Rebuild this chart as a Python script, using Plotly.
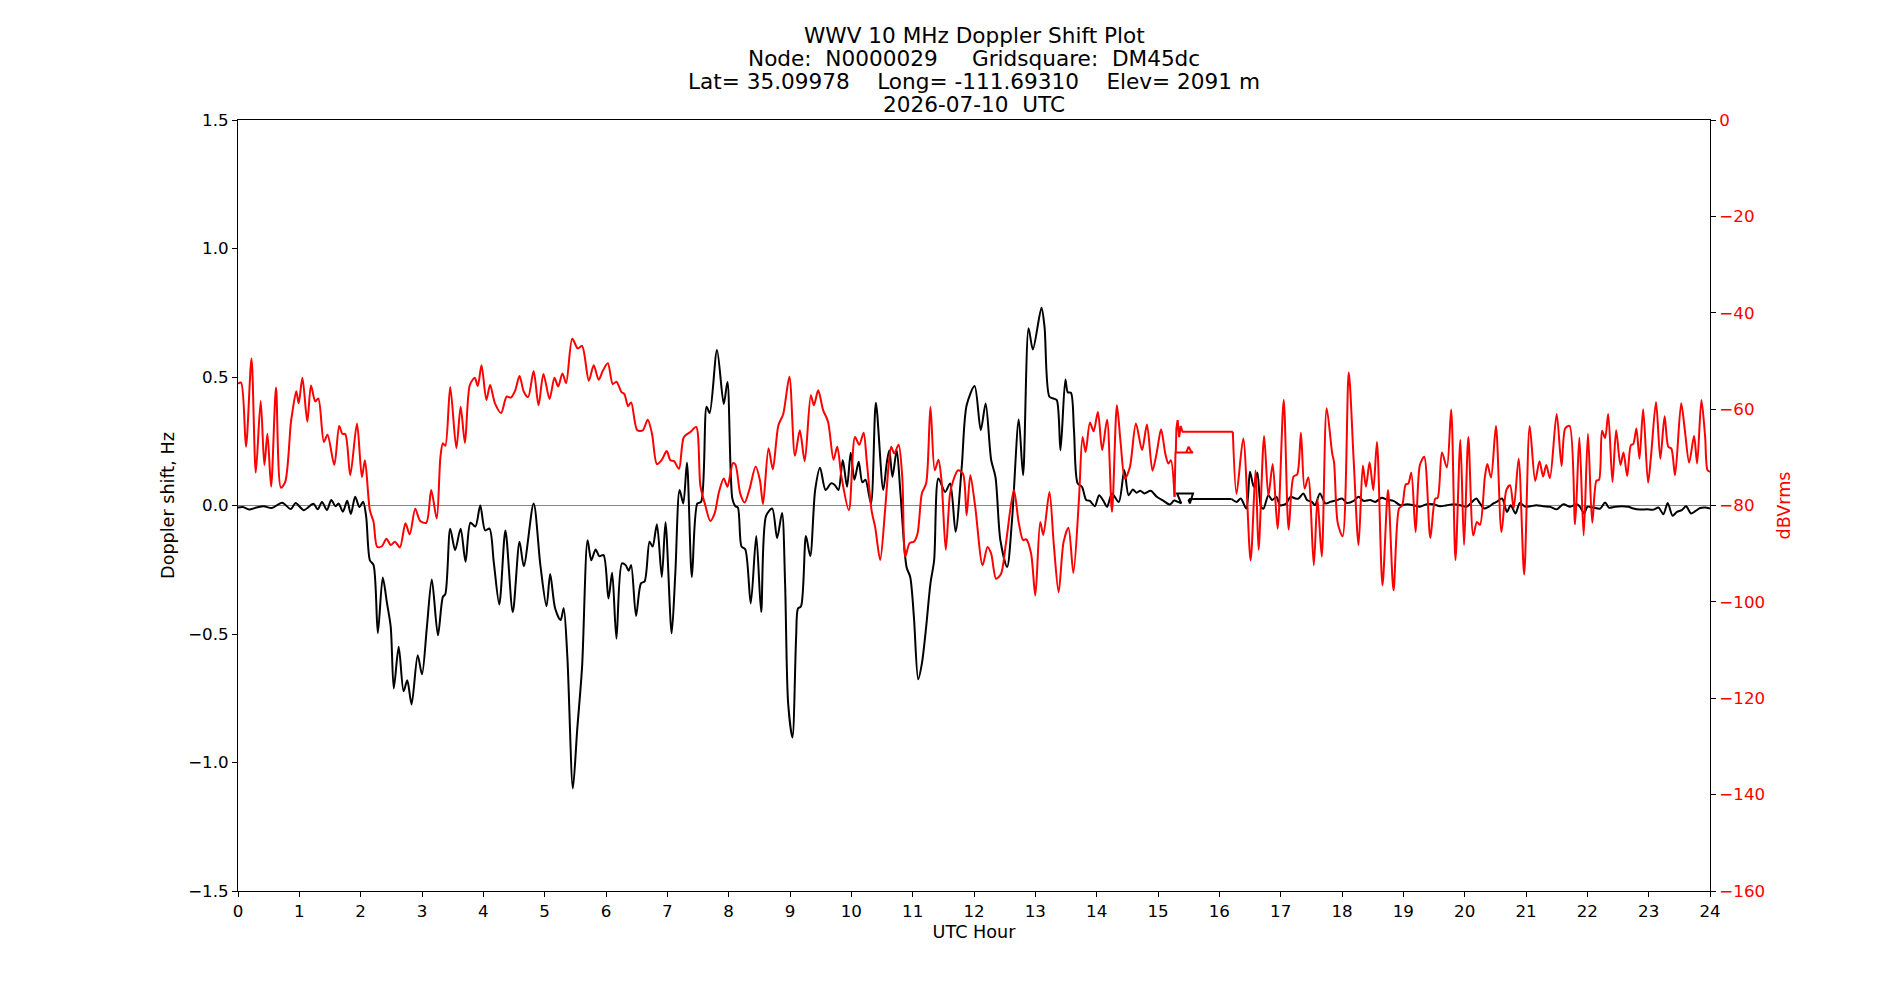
import plotly.graph_objects as go

# ---------------- data ----------------
# Doppler shift (Hz) vs UTC hour
dop_hour = [0.00,0.08,0.18,0.30,0.42,0.55,0.72,0.86,0.94,1.07,1.23,1.30,1.37,1.45,1.52,1.59,1.64,1.71,1.78,1.84,1.91,1.98,2.04,2.09,
            2.15,2.21,2.28,2.36,2.43,2.49,2.54,2.62,2.70,2.76,2.83,2.93,3.00,3.08,3.16,3.26,3.34,3.38,3.46,3.54,3.63,3.71,3.79,3.87,3.95,
            4.03,4.10,4.17,4.26,4.36,4.48,4.59,4.66,4.82,4.93,5.03,5.09,5.17,5.26,5.31,5.37,5.46,5.53,5.61,5.70,5.76,5.83,5.89,5.96,
            6.04,6.10,6.17,6.26,6.32,6.37,6.41,6.49,6.57,6.63,6.71,6.76,6.83,6.91,6.97,7.07,7.13,7.20,7.26,7.32,7.40,7.49,7.55,7.64,
            7.69,7.81,7.92,7.98,8.06,8.11,8.15,8.21,8.27,8.36,8.45,8.53,8.61,8.71,8.79,8.87,8.92,8.97,9.04,9.10,9.13,9.18,9.26,9.33,
            9.41,9.49,9.58,9.67,9.73,9.79,9.86,9.93,9.99,10.05,10.12,10.18,10.23,10.32,10.40,10.52,10.58,10.62,10.67,10.74,10.80,10.90,
            10.96,11.02,11.09,11.15,11.22,11.29,11.35,11.42,11.53,11.61,11.70,11.80,11.88,12.01,12.11,12.19,12.28,12.35,12.43,12.54,
            12.62,12.73,12.80,12.89,12.96,13.10,13.15,13.23,13.30,13.35,13.41,13.49,13.53,13.58,13.63,13.69,13.76,13.83,13.89,13.97,
            14.04,14.11,14.17,14.25,14.36,14.45,14.52,14.59,14.65,14.71,14.78,14.88,14.98,15.09,15.19,15.26]
dop_hz = [-0.008,-0.006,-0.016,-0.008,-0.003,-0.010,0.011,-0.014,0.010,-0.018,0.007,-0.015,0.014,-0.018,0.021,-0.003,0.008,-0.024,0.018,-0.033,0.034,-0.006,0.015,-0.044,
          -0.213,-0.232,-0.496,-0.280,-0.381,-0.472,-0.712,-0.550,-0.723,-0.680,-0.774,-0.583,-0.657,-0.472,-0.288,-0.505,-0.356,-0.345,-0.090,-0.174,-0.090,-0.219,-0.067,-0.082,0.000,
          -0.097,-0.090,-0.220,-0.385,-0.097,-0.415,-0.141,-0.236,0.008,-0.232,-0.392,-0.267,-0.400,-0.446,-0.400,-0.589,-1.101,-0.874,-0.628,-0.135,-0.213,-0.171,-0.197,-0.193,
          -0.362,-0.262,-0.518,-0.225,-0.232,-0.254,-0.232,-0.430,-0.303,-0.295,-0.141,-0.160,-0.073,-0.278,-0.065,-0.498,-0.265,0.060,0.008,0.166,-0.278,0.008,0.014,0.384,
          0.360,0.605,0.395,0.481,0.027,-0.003,-0.008,-0.160,-0.170,-0.381,-0.119,-0.414,-0.040,-0.012,-0.127,-0.029,-0.303,-0.771,-0.903,-0.511,-0.401,-0.392,-0.119,-0.197,
          0.060,0.147,0.060,0.086,0.080,0.060,0.177,0.073,0.205,0.100,0.170,0.090,0.100,0.008,0.400,0.060,0.170,0.215,0.111,0.215,0.050,-0.239,
          -0.278,-0.433,-0.676,-0.615,-0.472,-0.303,-0.213,0.105,0.053,0.086,-0.102,0.150,0.390,0.465,0.293,0.397,0.177,0.111,-0.135,-0.239,
          -0.057,0.335,0.118,0.690,0.607,0.769,0.695,0.423,0.416,0.410,0.215,0.490,0.440,0.439,0.293,0.086,0.073,0.021,0.018,-0.003,
          0.040,0.018,-0.005,0.047,0.014,0.138,0.040,0.062,0.050,0.057,0.047,0.057,0.034,0.018,0.004,0.021]
# recording glitch (timestamps run backwards briefly)
dop_glitch_hour = [15.26,15.38,15.31,15.57,15.52,15.50,15.52,16.20]
dop_glitch_hz = [0.021,0.008,0.047,0.047,0.008,0.020,0.025,0.025]
dop_hour2 = [16.20,16.28,16.35,16.44,16.50,16.56,16.62,16.68,16.72,16.80,16.86,16.93,16.99,17.09,17.16,17.24,17.29,17.37,17.43,17.51,17.56,17.64,
             17.73,17.81,17.92,18.00,18.08,18.19,18.27,18.35,18.46,18.54,18.65,18.73,18.84,18.95,19.06,19.17,19.27,19.38,19.49,19.60,19.71,19.82,
             19.93,20.03,20.12,20.19,20.25,20.32,20.39,20.47,20.52,20.61,20.69,20.75,20.83,20.90,20.99,21.07,21.17,21.28,21.39,21.50,21.61,21.72,
             21.83,21.88,21.95,22.00,22.10,22.21,22.29,22.35,22.45,22.56,22.67,22.75,22.86,22.97,23.08,23.16,23.24,23.31,23.39,23.46,23.54,23.61,
             23.69,23.76,23.84,23.92,24.00]
dop_hz2 = [0.025,0.014,0.027,-0.012,0.131,0.073,0.128,-0.005,-0.012,0.040,0.021,0.034,0.001,0.008,0.034,0.027,0.027,0.047,0.021,0.014,0.001,0.047,
           0.008,0.014,0.021,0.027,0.010,0.018,0.034,0.018,0.021,0.014,0.030,0.023,0.018,0.001,0.005,0.001,-0.005,0.005,0.005,-0.003,0.001,0.005,
           0.001,-0.005,0.014,0.027,0.008,-0.012,-0.005,0.008,0.014,0.027,-0.025,0.001,-0.031,0.010,-0.005,-0.003,0.001,-0.003,-0.005,-0.015,0.005,-0.005,
           0.005,-0.005,-0.031,-0.005,-0.008,-0.012,0.012,-0.008,-0.005,-0.003,-0.005,-0.012,-0.016,-0.015,-0.016,-0.008,-0.034,0.010,-0.040,-0.025,-0.018,-0.003,
           -0.031,-0.022,-0.010,-0.008,-0.012]

# Signal level (dBVrms) vs UTC hour
pwr_hour = [0.00,0.05,0.13,0.22,0.29,0.37,0.43,0.48,0.54,0.62,0.70,0.77,0.86,0.88,0.95,0.99,1.05,1.13,1.19,1.26,1.31,1.40,1.46,1.57,1.65,1.70,1.75,1.83,1.94,
            2.02,2.07,2.15,2.21,2.27,2.35,2.42,2.49,2.56,2.64,2.73,2.80,2.89,2.97,3.07,3.15,3.24,3.30,3.34,3.38,3.46,3.56,3.63,3.70,3.78,3.86,3.91,3.97,
            4.05,4.11,4.19,4.29,4.38,4.45,4.52,4.59,4.66,4.73,4.82,4.90,4.98,5.08,5.16,5.22,5.29,5.35,5.45,5.54,5.61,5.72,5.80,5.88,5.95,6.03,6.11,6.17,
            6.25,6.30,6.36,6.41,6.51,6.60,6.68,6.75,6.83,6.91,6.99,7.05,7.11,7.19,7.27,7.38,7.47,7.54,7.62,7.70,7.77,7.84,7.92,7.98,8.07,8.11,8.19,8.26,
            8.34,8.44,8.51,8.56,8.65,8.72,8.81,8.89,8.99,9.08,9.16,9.24,9.34,9.39,9.46,9.54,9.62,9.71,9.77,9.84,9.96,10.06,10.13,10.20,10.25,10.33,10.39,
            10.47,10.55,10.61,10.65,10.70,10.77,10.83,10.88,10.95,11.02,11.08,11.15,11.22,11.29,11.36,11.42,11.47,11.54,11.61,11.67,11.74,11.82,11.88,
            11.94,12.02,12.14,12.22,12.28,12.36,12.44,12.52,12.65,12.73,12.80,12.85,12.93,13.00,13.08,13.13,13.23,13.30,13.38,13.46,13.54,13.62,13.71,
            13.77,13.82,13.89,13.95,14.02,14.09,14.17,14.25,14.33,14.39,14.46,14.54,14.64,14.74,14.82,14.91,14.98,15.05,15.12,15.17,15.21,15.27]
pwr_db = [-54.7,-54.5,-67.8,-49.5,-73.2,-58.3,-71.6,-65.1,-76.1,-55.5,-76.3,-75.1,-63.0,-61.2,-56.3,-58.8,-53.5,-62.6,-55.1,-58.4,-57.8,-66.8,-65.3,-71.6,-63.5,-65.1,-65.2,-73.7,-63.0,
          -74.1,-70.6,-81.0,-83.4,-88.6,-88.4,-86.9,-88.2,-87.5,-88.7,-83.7,-86.0,-80.7,-83.2,-83.6,-76.8,-82.7,-70.0,-67.1,-67.6,-55.4,-68.1,-59.5,-67.0,-55.0,-53.5,-55.2,-50.9,
          -58.1,-55.0,-58.8,-60.8,-57.4,-57.6,-56.1,-53.1,-56.4,-57.5,-52.1,-59.2,-52.7,-57.9,-53.5,-55.3,-52.6,-54.6,-45.4,-47.4,-46.9,-54.1,-50.9,-53.9,-52.0,-50.5,-54.8,-54.3,
          -56.4,-56.9,-59.4,-58.6,-64.4,-64.4,-62.2,-65.1,-71.4,-70.5,-68.7,-70.6,-70.8,-72.4,-65.8,-64.7,-63.7,-76.0,-80.0,-83.2,-81.7,-77.3,-74.4,-76.1,-71.2,-71.5,-77.6,-79.4,
          -76.6,-71.9,-74.8,-79.7,-68.1,-72.5,-63.4,-61.0,-53.3,-69.7,-64.4,-70.8,-57.1,-59.2,-56.1,-60.2,-62.6,-70.5,-67.8,-74.1,-81.0,-65.8,-67.4,-64.9,-70.6,-81.0,-84.6,
          -91.3,-81.0,-71.4,-67.8,-69.2,-67.4,-74.0,-90.6,-87.8,-87.5,-85.8,-77.5,-75.4,-59.5,-72.7,-70.5,-74.8,-89.2,-77.5,-74.5,-72.7,-73.4,-82.0,
          -73.7,-80.3,-92.4,-88.6,-90.0,-95.2,-94.2,-87.9,-76.8,-83.6,-87.2,-87.0,-89.9,-98.7,-83.4,-86.1,-77.2,-87.9,-98.0,-87.6,-84.6,-94.0,-79.0,
          -65.8,-68.9,-62.8,-64.6,-60.6,-68.5,-62.2,-81.3,-59.2,-66.9,-74.4,-72.1,-63.0,-68.5,-63.2,-72.8,-69.0,-64.2,-69.3,-71.3,-70.6,-78.2]
pwr_glitch_hour = [15.27,15.285,15.46,15.50,15.54,15.57,15.29,15.30,15.32,15.345,15.37,15.40,16.22]
pwr_glitch_db = [-78.2,-69.0,-69.0,-67.8,-68.8,-69.0,-69.0,-64.0,-62.3,-65.8,-63.5,-64.7,-64.7]
pwr_hour2 = [16.22,16.28,16.39,16.51,16.59,16.64,16.73,16.80,16.87,16.95,17.05,17.13,17.21,17.27,17.33,17.39,17.45,17.54,17.60,17.67,17.75,17.84,17.87,
             17.93,18.01,18.11,18.19,18.27,18.34,18.39,18.45,18.51,18.57,18.66,18.75,18.84,18.93,18.98,19.04,19.08,19.13,19.20,19.27,19.34,19.44,19.52,19.56,
             19.63,19.71,19.78,19.85,19.93,19.99,20.06,20.14,20.20,20.25,20.33,20.37,20.43,20.51,20.60,20.68,20.74,20.80,20.88,20.97,21.06,21.15,21.22,21.28,
             21.33,21.39,21.50,21.58,21.64,21.71,21.80,21.87,21.94,22.01,22.08,22.15,22.19,22.24,22.29,22.34,22.41,22.47,22.54,22.59,22.65,22.71,22.75,22.80,
             22.85,22.91,22.99,23.04,23.12,23.19,23.26,23.32,23.37,23.43,23.53,23.59,23.66,23.74,23.79,23.86,23.92,23.96,24.00]
pwr_db2 = [-64.7,-77.6,-66.1,-91.4,-72.7,-89.2,-65.6,-78.0,-71.4,-84.8,-58.1,-85.0,-74.0,-73.5,-64.9,-76.5,-74.2,-92.4,-78.6,-90.6,-59.8,-69.2,-71.0,
           -83.6,-86.4,-52.4,-70.5,-88.2,-71.7,-76.1,-71.0,-76.8,-66.8,-96.6,-76.8,-97.6,-80.6,-80.0,-75.6,-75.5,-73.2,-85.5,-71.6,-69.9,-86.7,-78.6,-78.4,
           -69.0,-72.1,-60.1,-91.3,-66.4,-88.2,-65.8,-86.2,-83.4,-84.0,-74.0,-71.4,-74.2,-63.5,-85.5,-76.8,-75.8,-80.6,-70.3,-94.3,-63.5,-74.9,-70.8,-74.0,
           -71.6,-74.3,-61.0,-71.8,-64.0,-63.5,-83.9,-65.9,-86.2,-65.1,-83.6,-74.8,-74.7,-64.5,-66.0,-61.0,-75.1,-64.4,-71.6,-69.0,-73.9,-67.5,-67.2,-64.0,
           -70.3,-60.0,-75.3,-69.5,-58.5,-70.3,-61.5,-67.8,-68.2,-73.7,-58.8,-64.4,-71.1,-65.6,-71.3,-58.1,-65.6,-72.7,-73.0]

x_ticks = list(range(0, 25))
title_lines = ["WWV 10 MHz Doppler Shift Plot",
               "Node:  N0000029     Gridsquare:  DM45dc",
               "Lat= 35.09978    Long= -111.69310    Elev= 2091 m",
               "2026-07-10  UTC"]

# ---------------- figure ----------------
FONT = "DejaVu Sans"
fig = go.Figure()

blk = dict(color="black", width=2)
red = dict(color="red", width=2)

fig.add_trace(go.Scatter(x=dop_hour, y=dop_hz, mode="lines", line=dict(**blk, shape="spline", smoothing=0.8), yaxis="y"))
fig.add_trace(go.Scatter(x=dop_glitch_hour, y=dop_glitch_hz, mode="lines", line=blk, yaxis="y"))
fig.add_trace(go.Scatter(x=dop_hour2, y=dop_hz2, mode="lines", line=dict(**blk, shape="spline", smoothing=0.8), yaxis="y"))

fig.add_trace(go.Scatter(x=pwr_hour, y=pwr_db, mode="lines", line=dict(**red, shape="spline", smoothing=0.8), yaxis="y2"))
fig.add_trace(go.Scatter(x=pwr_glitch_hour, y=pwr_glitch_db, mode="lines", line=red, yaxis="y2"))
fig.add_trace(go.Scatter(x=pwr_hour2, y=pwr_db2, mode="lines", line=dict(**red, shape="spline", smoothing=0.8), yaxis="y2"))

fig.add_shape(type="line", xref="paper", x0=0, x1=1, yref="y", y0=0, y1=0,
              line=dict(color="#888888", width=1.2), layer="below")

title_y = [1.1096, 1.0797, 1.0503, 1.0204]
for txt, yy in zip(title_lines, title_y):
    fig.add_annotation(text=txt, xref="paper", yref="paper", x=0.5, y=yy,
                       xanchor="center", yanchor="middle", showarrow=False,
                       font=dict(family=FONT, size=21.6, color="black"))

axis_common = dict(showgrid=False, zeroline=False, showline=True, linecolor="black", linewidth=1,
                   ticks="outside", ticklen=5, tickwidth=1, tickcolor="black")

TICK = 16.7
LAB = 17.6
fig.update_layout(
    width=1900, height=1000, autosize=False,
    margin=dict(l=238, r=190, t=120, b=109, pad=0),
    paper_bgcolor="white", plot_bgcolor="white",
    showlegend=False,
    font=dict(family=FONT, size=TICK, color="black"),
    xaxis=dict(**axis_common, range=[0, 24], tickmode="array", tickvals=x_ticks,
               ticktext=[str(t) for t in x_ticks], mirror=True,
               tickfont=dict(family=FONT, size=TICK, color="black"),
               title=dict(text="UTC Hour", font=dict(family=FONT, size=LAB, color="black"), standoff=5)),
    yaxis=dict(**axis_common, range=[-1.5, 1.5], tickmode="linear", tick0=-1.5, dtick=0.5,
               tickformat=".1f", tickfont=dict(family=FONT, size=TICK, color="black"),
               title=dict(text="Doppler shift, Hz", font=dict(family=FONT, size=LAB, color="black"), standoff=8)),
    yaxis2=dict(**axis_common, overlaying="y", side="right", range=[-160, 0], tickmode="linear",
                tick0=-160, dtick=20, tickfont=dict(family=FONT, size=TICK, color="red"),
                title=dict(text="dBVrms", font=dict(family=FONT, size=LAB, color="red"), standoff=13)),
)

fig.write_html("out.html")
